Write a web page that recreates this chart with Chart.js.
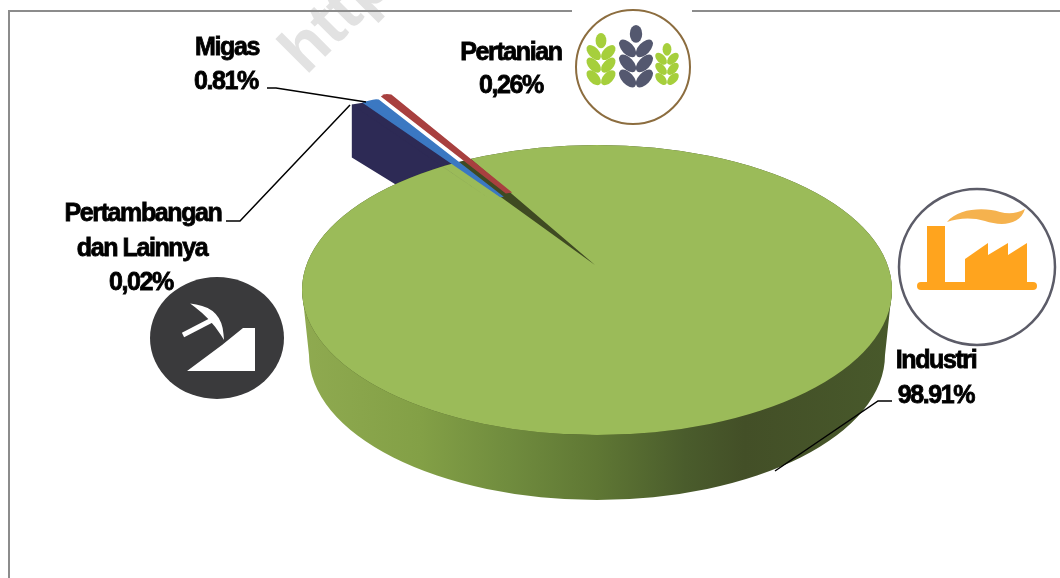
<!DOCTYPE html>
<html>
<head>
<meta charset="utf-8">
<title>Pie</title>
<style>
  html, body { margin: 0; padding: 0; background: #fff; overflow: hidden; }
  canvas { display: block; }
</style>
<script src="https://cdn.jsdelivr.net/npm/chart.js@4"></script>
</head>
<body>
<canvas id="pie" width="1060" height="578"></canvas>
<script>
// data
const categories = ['Pertambangan dan Lainnya', 'Migas', 'Pertanian', 'Industri'];
const shares = [0.02, 0.81, 0.26, 98.91];
const shareLabels = ['0,02%', '0.81%', '0,26%', '98.91%'];
const sliceColors = ['#2d2a55', '#3b78c2', '#a8403f', '#9bbb59'];

// top face of the pie (the tilted disc)
const disc = { x: 597, y: 290, rx: 295, ry: 145 };
const rimDepth = 65;
// the green slice and the pulled out slices get their own projection
const bigView = { x: 595, y: 265, sx: 425, sy: 170 };
const smallView = { x: 502, y: 197, sx: 285, sy: 108 };
const explode = [[-12, 2], [0, 0], [7, -4]];

function project(ctx, arc, view, shift) {
    ctx.translate(view.x + shift[0], view.y + shift[1]);
    ctx.scale(view.sx / arc.outerRadius, view.sy / arc.outerRadius);
    ctx.translate(-arc.x, -arc.y);
}

function outerPoint(arc, angle, shift) {
    return [
        smallView.x + shift[0] + Math.cos(angle) * smallView.sx,
        smallView.y + shift[1] + Math.sin(angle) * smallView.sy
    ];
}

function drawRim(ctx) {
    const low = { x: disc.x, y: disc.y + rimDepth, rx: disc.rx - 7, ry: disc.ry };
    const grad = ctx.createLinearGradient(disc.x - disc.rx, 0, disc.x + disc.rx, 0);
    grad.addColorStop(0, '#8faa50');
    grad.addColorStop(0.2, '#83a046');
    grad.addColorStop(0.35, '#708c3e');
    grad.addColorStop(0.5, '#5f7734');
    grad.addColorStop(0.65, '#4a5c2c');
    grad.addColorStop(0.75, '#434f27');
    grad.addColorStop(1, '#48592b');
    ctx.fillStyle = grad;
    ctx.beginPath();
    ctx.moveTo(disc.x - disc.rx, disc.y);
    ctx.lineTo(low.x - low.rx, low.y);
    ctx.ellipse(low.x, low.y, low.rx, low.ry, 0, Math.PI, 0, true);
    ctx.lineTo(disc.x + disc.rx, disc.y);
    ctx.closePath();
    ctx.fill();
}

// side wall below the small pulled out slices
function drawSmallWall(ctx, arcs) {
    const depth = 53;
    const tip = outerPoint(arcs[0], arcs[0].startAngle, explode[0]);
    const next = outerPoint(arcs[1], arcs[1].startAngle, explode[1]);
    const apex = [smallView.x, smallView.y];
    ctx.fillStyle = sliceColors[0];
    ctx.beginPath();
    ctx.moveTo(tip[0], tip[1]);
    ctx.lineTo(next[0], next[1]);
    ctx.lineTo(apex[0], apex[1]);
    ctx.lineTo(apex[0], apex[1] + depth);
    ctx.lineTo(tip[0], tip[1] + depth);
    ctx.closePath();
    ctx.fill();
}

function drawDiscPath(ctx) {
    ctx.beginPath();
    ctx.ellipse(disc.x, disc.y, disc.rx, disc.ry, 0, 0, Math.PI * 2);
}

const pie3d = {
    id: 'pie3d',
    beforeDatasetDraw(chart, args) {
        const ctx = chart.ctx;
        const arcs = chart.getDatasetMeta(args.index).data;
        drawRim(ctx);
        drawSmallWall(ctx, arcs);

        // dark inner wall shows through the gap of the big slice
        ctx.fillStyle = '#3f4a22';
        drawDiscPath(ctx);
        ctx.fill();

        ctx.save();
        drawDiscPath(ctx);
        ctx.clip();
        project(ctx, arcs[3], bigView, [0, 0]);
        arcs[3].draw(ctx);
        ctx.restore();

        for (let i = 0; i < 3; i++) {
            ctx.save();
            project(ctx, arcs[i], smallView, explode[i]);
            arcs[i].draw(ctx);
            ctx.restore();
        }
        return false;
    }
};

function drawLabel(ctx, lines, cx, baselines) {
    ctx.save();
    ctx.font = 'bold 25px "Liberation Sans", Arial, sans-serif';
    ctx.letterSpacing = '-1.4px';
    ctx.textAlign = 'center';
    ctx.fillStyle = '#000';
    ctx.strokeStyle = '#000';
    ctx.lineWidth = 0.8;
    lines.forEach((line, i) => {
        ctx.fillText(line, cx[i], baselines[i]);
        ctx.strokeText(line, cx[i], baselines[i]);
    });
    ctx.restore();
}

function leader(ctx, pts) {
    ctx.strokeStyle = '#000';
    ctx.lineWidth = 1.5;
    ctx.beginPath();
    pts.forEach((p, i) => i ? ctx.lineTo(p[0], p[1]) : ctx.moveTo(p[0], p[1]));
    ctx.stroke();
}

function drawWheat(ctx, x, top, bottom, width, color) {
    // one ear: a tip and three pairs of slanted grains
    const tipH = (bottom - top) * 0.26;
    const step = (bottom - top - tipH) / 3;
    ctx.fillStyle = color;
    ctx.beginPath();
    ctx.ellipse(x, top + tipH / 2 + 1, width * 0.2, tipH / 2 + 1, 0, 0, Math.PI * 2);
    ctx.fill();
    for (let i = 0; i < 3; i++) {
        const y = top + tipH + step * (i + 0.5);
        [-1, 1].forEach(side => {
            ctx.beginPath();
            ctx.ellipse(x + side * width * 0.27, y, width * 0.19, step * 0.72, side * 0.75, 0, Math.PI * 2);
            ctx.fill();
        });
    }
}

function drawWheatIcon(ctx) {
    ctx.fillStyle = '#fff';
    ctx.fillRect(572, 8, 120, 118);
    ctx.strokeStyle = '#8c6d3f';
    ctx.lineWidth = 2;
    ctx.beginPath();
    ctx.arc(633, 67, 57, 0, Math.PI * 2);
    ctx.stroke();
    drawWheat(ctx, 601, 33, 84, 27, '#a6cf3c');
    drawWheat(ctx, 636, 25, 86, 31, '#54586f');
    drawWheat(ctx, 667, 43, 84, 22, '#a6cf3c');
}

function drawFactoryIcon(ctx) {
    ctx.fillStyle = '#fff';
    ctx.beginPath();
    ctx.arc(977, 267, 78, 0, Math.PI * 2);
    ctx.fill();
    ctx.strokeStyle = '#5c5c68';
    ctx.lineWidth = 2.5;
    ctx.stroke();

    ctx.fillStyle = '#ffa41e';
    ctx.fillRect(927, 226, 18, 60);
    ctx.beginPath();
    ctx.moveTo(965, 287);
    ctx.lineTo(965, 259);
    ctx.lineTo(988, 243);
    ctx.lineTo(988, 255);
    ctx.lineTo(1008, 243);
    ctx.lineTo(1008, 255);
    ctx.lineTo(1027, 243);
    ctx.lineTo(1027, 287);
    ctx.closePath();
    ctx.fill();
    ctx.beginPath();
    ctx.roundRect(917, 282, 120, 8, 4);
    ctx.fill();

    ctx.fillStyle = '#f5b24e';
    ctx.beginPath();
    ctx.moveTo(947, 222);
    ctx.bezierCurveTo(958, 208, 985, 207, 1000, 212);
    ctx.bezierCurveTo(1008, 214, 1016, 214, 1025, 209);
    ctx.bezierCurveTo(1020, 226, 1000, 226, 985, 221);
    ctx.bezierCurveTo(972, 217, 958, 218, 947, 222);
    ctx.fill();
}

function drawMiningIcon(ctx) {
    ctx.fillStyle = '#3a3a3c';
    ctx.beginPath();
    ctx.ellipse(217, 338, 67, 61, 0, 0, Math.PI * 2);
    ctx.fill();

    ctx.fillStyle = '#fff';
    ctx.beginPath();
    ctx.moveTo(187, 371);
    ctx.lineTo(255, 371);
    ctx.lineTo(255, 328);
    ctx.lineTo(243, 328);
    ctx.lineTo(222, 345);
    ctx.closePath();
    ctx.fill();

    ctx.strokeStyle = '#fff';
    ctx.lineWidth = 5;
    ctx.beginPath();
    ctx.moveTo(183, 335);
    ctx.lineTo(212, 320);
    ctx.stroke();
    ctx.beginPath();
    ctx.moveTo(196, 306);
    ctx.quadraticCurveTo(220, 310, 222, 334);
    ctx.quadraticCurveTo(212, 318, 196, 306);
    ctx.closePath();
    ctx.fill();
    ctx.lineWidth = 3;
    ctx.stroke();
}

const extras = {
    id: 'extras',
    beforeDraw(chart) {
        const ctx = chart.ctx;
        ctx.save();
        // faint watermark
        ctx.translate(306, 76);
        ctx.rotate(-Math.PI / 4);
        ctx.font = 'bold 66px "Liberation Sans", Arial, sans-serif';
        ctx.fillStyle = '#e2e2e2';
        ctx.fillText('http', 0, 0);
        ctx.restore();

        // frame
        ctx.fillStyle = '#8c8c8c';
        ctx.fillRect(8, 10, 1052, 2);
        ctx.fillRect(8, 10, 2, 568);
    },
    afterDraw(chart) {
        const ctx = chart.ctx;
        drawWheatIcon(ctx);
        drawFactoryIcon(ctx);
        drawMiningIcon(ctx);

        leader(ctx, [[267, 88], [276, 88], [366, 102]]);
        leader(ctx, [[226, 221], [240, 221], [350, 105]]);
        leader(ctx, [[892, 401], [878, 401], [775, 471]]);

        drawLabel(ctx, [categories[1], shareLabels[1]], [227, 226], [55, 89]);
        drawLabel(ctx, ['Pertambangan', 'dan Lainnya', shareLabels[0]], [143, 142, 141], [221, 256, 290]);
        drawLabel(ctx, [categories[2], shareLabels[2]], [511, 511], [60, 93]);
        drawLabel(ctx, [categories[3], shareLabels[3]], [936, 936], [368, 403]);
    }
};

new Chart(document.getElementById('pie'), {
    type: 'pie',
    data: {
        labels: categories,
        datasets: [{
            data: shares,
            backgroundColor: sliceColors,
            borderColor: sliceColors,
            borderWidth: [0, 4, 7, 0],
            borderAlign: 'center',
            clip: false
        }]
    },
    options: {
        responsive: false,
        animation: false,
        rotation: -29,
        layout: { padding: 0 },
        plugins: {
            legend: { display: false },
            tooltip: { enabled: false },
            title: { display: false }
        }
    },
    plugins: [pie3d, extras]
});
</script>
</body>
</html>
